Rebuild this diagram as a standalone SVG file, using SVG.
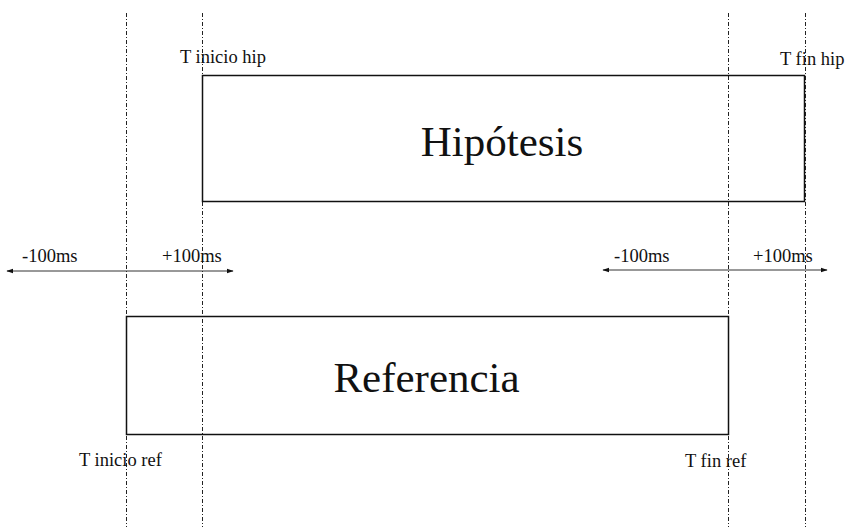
<svg xmlns="http://www.w3.org/2000/svg" width="846" height="527" viewBox="0 0 846 527">
<style>
.bg{fill:#fff}
.guide{stroke:#222;stroke-width:1;stroke-dasharray:4 2 1 2;fill:none}
.box{fill:none;stroke:#111;stroke-width:1.5}
.arr{stroke:#333;stroke-width:1;fill:none;marker-start:url(#ah);marker-end:url(#ah)}
.t{font-family:"Liberation Serif","DejaVu Serif",serif;fill:#111}
.s{font-size:18.5px}
.b{font-size:43px}
</style>
<defs>
<marker id="ah" viewBox="0 0 10 10" refX="9" refY="5" markerWidth="7" markerHeight="7" orient="auto-start-reverse" markerUnits="userSpaceOnUse">
<path d="M0,1.5 L10,5 L0,8.5 Z" fill="#111"/>
</marker>
</defs>
<rect class="bg" width="846" height="527"/>
<g id="guides">
<line class="guide" x1="126.5" y1="13" x2="126.5" y2="527"/>
<line class="guide" x1="202.5" y1="13" x2="202.5" y2="527"/>
<line class="guide" x1="728.5" y1="13" x2="728.5" y2="527"/>
<line class="guide" x1="805.5" y1="13" x2="805.5" y2="527"/>
</g>
<g id="hipotesis">
<rect class="box" x="202.5" y="75.5" width="602" height="126"/>
<text class="t b" x="502" y="155.5" text-anchor="middle">Hipótesis</text>
</g>
<g id="referencia">
<rect class="box" x="126.5" y="316.5" width="602" height="118"/>
<text class="t b" x="426.5" y="392" text-anchor="middle">Referencia</text>
</g>
<g id="connectors">
<line class="arr" x1="7" y1="271" x2="233" y2="271"/>
<line class="arr" x1="603" y1="270" x2="827" y2="270"/>
</g>
<g id="labels">
<text class="t s" x="180" y="63">T inicio hip</text>
<text class="t s" x="780" y="65">T fin hip</text>
<text class="t s" x="22" y="262">-100ms</text>
<text class="t s" x="162" y="262">+100ms</text>
<text class="t s" x="614" y="262">-100ms</text>
<text class="t s" x="753" y="262">+100ms</text>
<text class="t s" x="79" y="466">T inicio ref</text>
<text class="t s" x="685" y="467">T fin ref</text>
</g>
</svg>
